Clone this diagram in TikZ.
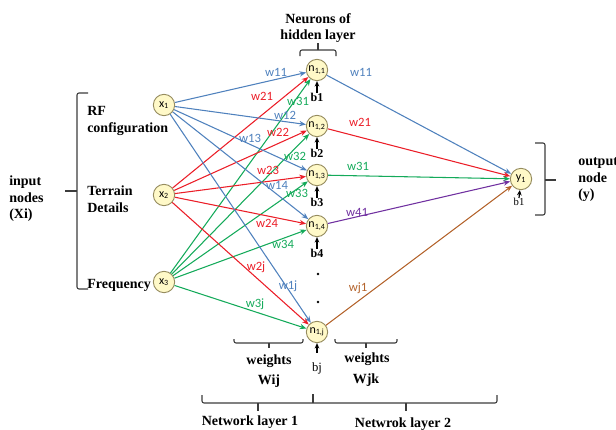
\documentclass[tikz,border=0pt]{standalone}
\usepackage{fontspec}
\setmainfont{Liberation Serif}
\newfontfamily\lblfont{Carlito}
\usetikzlibrary{arrows.meta}
\definecolor{eblue}{RGB}{79,129,189}
\definecolor{ered}{RGB}{235,30,40}
\definecolor{egreen}{RGB}{20,170,90}
\definecolor{epurple}{RGB}{112,48,160}
\definecolor{ebrown}{RGB}{180,100,45}
\definecolor{nodefill}{RGB}{255,249,200}
\definecolor{nodedraw}{RGB}{150,140,95}
\definecolor{bracegray}{RGB}{60,60,60}
\begin{document}
\begin{tikzpicture}[x=0.75pt,y=-0.75pt,
  neuron/.style={circle,draw=nodedraw,fill=nodefill,line width=0.7pt,minimum size=16pt,inner sep=0pt,font=\lblfont\fontsize{9}{9}\selectfont},
  conn/.style={line width=0.8pt,-{Stealth[length=5pt,width=4pt]}},
  wl/.style={font=\lblfont\fontsize{9.5}{10}\selectfont,inner sep=0pt},
  bt/.style={font=\bfseries\fontsize{10.5}{12.4}\selectfont,align=left,inner sep=0pt},
  bl/.style={font=\bfseries\fontsize{9}{10}\selectfont,inner sep=0pt},
  brk/.style={line width=0.8pt,draw=bracegray,rounded corners=1.5pt},
  tick/.style={line width=0.8pt,draw=bracegray},
  bias/.style={-{Stealth[length=4pt,width=3.5pt]},line width=0.9pt}]
\useasboundingbox (0,0) rectangle (616,429);

% nodes
\node[neuron] (x1) at (164,105) {x\textsubscript{1}};
\node[neuron] (x2) at (164,195) {x\textsubscript{2}};
\node[neuron] (x3) at (164,282) {x\textsubscript{3}};
\node[neuron] (n11) at (317,70) {n\textsubscript{1,1}};
\node[neuron] (n12) at (317,126) {n\textsubscript{1,2}};
\node[neuron] (n13) at (317,175) {n\textsubscript{1,3}};
\node[neuron] (n14) at (317,226) {n\textsubscript{1,4}};
\node[neuron] (n1j) at (317,332) {n\textsubscript{1,j}};
\node[neuron] (y1) at (521,179) {y\textsubscript{1}};

% input -> hidden
\foreach \h in {n11,n12,n13,n14,n1j}{
  \draw[conn,eblue] (x1) -- (\h);
  \draw[conn,ered] (x2) -- (\h);
  \draw[conn,egreen] (x3) -- (\h);
}
% hidden -> output
\draw[conn,eblue] (n11) -- (y1);
\draw[conn,ered] (n12) -- (y1);
\draw[conn,egreen] (n13) -- (y1);
\draw[conn,epurple] (n14) -- (y1);
\draw[conn,ebrown] (n1j) -- (y1);

% weight labels
\node[wl,eblue] (lw11) at (276,72) {w11};
\node[wl,ered] (lw21) at (262,96) {w21};
\node[wl,egreen] (lw31) at (298,101) {w31};
\node[wl,eblue] (lw12) at (285,115) {w12};
\node[wl,ered] (lw22) at (278,132) {w22};
\node[wl,eblue] (lw13) at (250,138) {w13};
\node[wl,egreen] (lw32) at (295,156) {w32};
\node[wl,ered] (lw23) at (268,170) {w23};
\node[wl,eblue] (lw14) at (277,185) {w14};
\node[wl,egreen] (lw33) at (297,193) {w33};
\node[wl,ered] (lw24) at (267,223) {w24};
\node[wl,egreen] (lw34) at (283,244) {w34};
\node[wl,ered] (lw2j) at (256,267) {w2j};
\node[wl,eblue] (lw1j) at (288,286) {w1j};
\node[wl,egreen] (lw3j) at (255,304) {w3j};
\node[wl,eblue] (ow11) at (361,72) {w11};
\node[wl,ered] (ow21) at (360,122) {w21};
\node[wl,egreen] (ow31) at (358,166) {w31};
\node[wl,epurple] (ow41) at (357,212) {w41};
\node[wl,ebrown] (owj1) at (358,288) {wj1};

% biases
\node[bl] (b1) at (317,97) {b1};
\node[bl] (b2) at (317,153) {b2};
\node[bl] (b3) at (317,202) {b3};
\node[bl] (b4) at (317,253) {b4};
\node[font=\fontsize{9.5}{10}\selectfont,inner sep=0pt] (bj) at (317,368) {bj};
\node[font=\fontsize{8}{9}\selectfont,inner sep=0pt] (by) at (519,202) {b1};
\draw[bias] (b1.north) -- (n11);
\draw[bias] (b2.north) -- (n12);
\draw[bias] (b3.north) -- (n13);
\draw[bias] (b4.north) -- (n14);
\draw[bias,shorten <=7pt] (bj.north) -- (n1j);
\draw[bias] (by.north) -- (y1);

% dots
\fill (318,274) circle (1pt);
\fill (318,302) circle (1pt);

% braces
\draw[brk] (88,93) -- (77,93) -- (77,289) -- (88,289);
\draw[tick] (65,191) -- (77,191);
\draw[brk] (535,143) -- (545,143) -- (545,215) -- (535,215);
\draw[tick] (545,180) -- (556,180);
\draw[brk] (300,56) -- (300,50) -- (336,50) -- (336,56);
\draw[tick] (318,50) -- (318,43);
\draw[brk] (234,339) -- (234,343) -- (303,343) -- (303,339);
\draw[tick] (269,343) -- (269,348);
\draw[brk] (335,339) -- (335,343) -- (397,343) -- (397,339);
\draw[tick] (366,343) -- (366,348);
\draw[brk] (202,395) -- (202,403) -- (497,403) -- (497,395);
\draw[tick] (313,403) -- (313,394);
\draw[tick] (258,403) -- (258,411);
\draw[tick] (406,403) -- (406,411);

% texts
\node[bt,align=center] (thid) at (318,28) {Neurons of\\hidden layer};
\node[bt,anchor=west] (tin) at (9,199) {input\\nodes\\(Xi)};
\node[bt,anchor=west] (trf) at (87,121) {RF\\configuration};
\node[bt,anchor=west] (tter) at (87,199) {Terrain\\Details};
\node[bt,anchor=west] (tfr) at (87,285) {Frequency};
\node[bt,anchor=west] (tout) at (578,180) {output\\node\\(y)};
\node[bt] (tw1) at (269,361) {weights};
\node[bt] (tw1b) at (269,381) {Wij};
\node[bt] (tw2) at (367,359) {weights};
\node[bt] (tw2b) at (366,380) {Wjk};
\node[bt] (tl1) at (250,422) {Network layer 1};
\node[bt] (tl2) at (403,424) {Netwrok layer 2};
\end{tikzpicture}
\end{document}
